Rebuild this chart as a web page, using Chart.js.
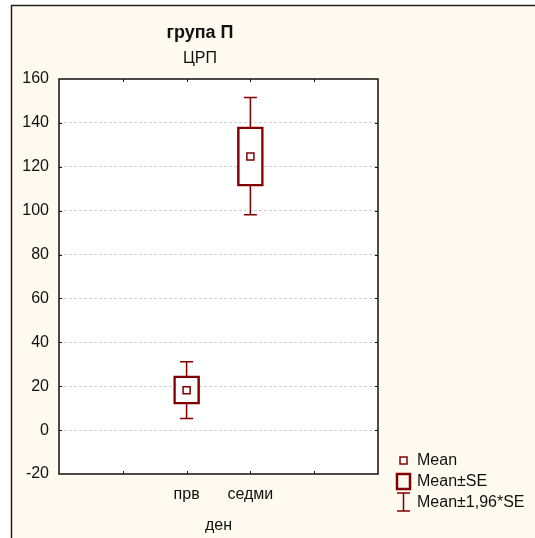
<!DOCTYPE html>
<html>
<head>
<meta charset="utf-8">
<script src="https://cdn.jsdelivr.net/npm/chart.js@4"></script>
<style>
  html, body { margin: 0; padding: 0; background: #ffffff; }
  canvas { display: block; }
</style>
</head>
<body>
<canvas id="grafik" width="535" height="538"></canvas>
<script>
// podatoci procitani od slikata
var denovi = ['прв', 'седми'];
var xPozicii = ['', '', 'прв', 'седми', '', ''];
var sredini = [18.2, 124.7];
var seDolu = [11.8, 111.2];
var seGore = [24.7, 138.2];
var ciDolu = [5.3, 98.1];
var ciGore = [31.1, 151.6];
var yTikovi = [-20, 0, 20, 40, 60, 80, 100, 120, 140, 160];
var legendaTekst = ['Mean', 'Mean±SE', 'Mean±1,96*SE'];
var naslov = 'група П';
var podnaslov = 'ЦРП';
var xNaslov = 'ден';

var crvena = '#800000';
var fontIme = '"Liberation Sans", Arial, sans-serif';

var boxPodatoci = [];
var sredinaPodatoci = [];
for (var i = 0; i < denovi.length; i++) {
  boxPodatoci.push({x: denovi[i], y: [seDolu[i], seGore[i]]});
  sredinaPodatoci.push({x: denovi[i], y: sredini[i]});
}

/* POZADINA I RAMKA */
var pozadinaPlugin = {
  id: 'pozadina',
  beforeDraw: function (chart) {
    var ctx = chart.ctx;
    var a = chart.chartArea;
    ctx.save();
    ctx.fillStyle = '#fffaef';
    ctx.fillRect(11, 5, chart.width - 11, chart.height - 5);
    ctx.strokeStyle = '#222222';
    ctx.lineWidth = 1.5;
    ctx.beginPath();
    ctx.moveTo(11.5, chart.height);
    ctx.lineTo(11.5, 5.5);
    ctx.lineTo(chart.width, 5.5);
    ctx.stroke();
    ctx.fillStyle = '#ffffff';
    ctx.fillRect(a.left, a.top, a.right - a.left, a.bottom - a.top);
    ctx.restore();
  },
  afterDraw: function (chart) {
    var ctx = chart.ctx;
    var a = chart.chartArea;
    ctx.save();
    ctx.strokeStyle = '#111111';
    ctx.lineWidth = 1.5;
    ctx.strokeRect(a.left, a.top, a.right - a.left, a.bottom - a.top);
    // tikovi vnatre
    ctx.lineWidth = 1;
    ctx.beginPath();
    var xs = chart.scales.x;
    for (var k = 1; k < xPozicii.length - 1; k++) {
      var px = Math.round(xs.getPixelForValue(k)) + 0.5;
      ctx.moveTo(px, a.top); ctx.lineTo(px, a.top + 3);
      ctx.moveTo(px, a.bottom); ctx.lineTo(px, a.bottom - 3);
    }
    var ys = chart.scales.y;
    for (var t = 1; t < yTikovi.length - 1; t++) {
      var py = Math.round(ys.getPixelForValue(yTikovi[t])) + 0.5;
      ctx.moveTo(a.left, py); ctx.lineTo(a.left + 3, py);
      ctx.moveTo(a.right, py); ctx.lineTo(a.right - 3, py);
    }
    ctx.stroke();
    ctx.restore();
  }
};

/* MUSTACI (Mean±1,96*SE) */
var mustaciPlugin = {
  id: 'mustaci',
  beforeDatasetsDraw: function (chart) {
    var ctx = chart.ctx;
    var ys = chart.scales.y;
    var meta = chart.getDatasetMeta(0);
    ctx.save();
    ctx.strokeStyle = crvena;
    ctx.lineWidth = 1.5;
    for (var i = 0; i < denovi.length; i++) {
      var x = meta.data[i].x;
      var yG = ys.getPixelForValue(ciGore[i]);
      var yD = ys.getPixelForValue(ciDolu[i]);
      ctx.beginPath();
      ctx.moveTo(x, yG); ctx.lineTo(x, yD);
      ctx.moveTo(x - 6.5, yG); ctx.lineTo(x + 6.5, yG);
      ctx.moveTo(x - 6.5, yD); ctx.lineTo(x + 6.5, yD);
      ctx.stroke();
    }
    ctx.restore();
  }
};

/* LEGENDA */
var legendaPlugin = {
  id: 'legenda',
  afterDraw: function (chart) {
    var ctx = chart.ctx;
    var a = chart.chartArea;
    var x0 = a.right + 18;
    var redovi = [a.bottom - 14, a.bottom + 7, a.bottom + 28];
    ctx.save();
    ctx.strokeStyle = crvena;
    // Mean
    ctx.lineWidth = 1.5;
    ctx.fillStyle = '#ffffff';
    ctx.fillRect(x0 + 4, redovi[0] - 3, 7, 7);
    ctx.strokeRect(x0 + 4, redovi[0] - 3, 7, 7);
    // Mean±SE
    ctx.lineWidth = 2.5;
    ctx.strokeRect(x0 + 1, redovi[1] - 7, 13, 15);
    // Mean±1,96*SE
    ctx.lineWidth = 1.5;
    ctx.beginPath();
    ctx.moveTo(x0 + 7.5, redovi[2] - 9); ctx.lineTo(x0 + 7.5, redovi[2] + 9);
    ctx.moveTo(x0 + 1, redovi[2] - 9); ctx.lineTo(x0 + 14, redovi[2] - 9);
    ctx.moveTo(x0 + 1, redovi[2] + 9); ctx.lineTo(x0 + 14, redovi[2] + 9);
    ctx.stroke();
    ctx.fillStyle = '#111111';
    ctx.font = '16px ' + fontIme;
    ctx.textBaseline = 'middle';
    ctx.textAlign = 'left';
    for (var r = 0; r < legendaTekst.length; r++) {
      ctx.fillText(legendaTekst[r], x0 + 21, redovi[r] + 1);
    }
    ctx.restore();
  }
};

var ctx = document.getElementById('grafik');
var grafik = new Chart(ctx, {
  type: 'bar',
  data: {
    labels: xPozicii,
    datasets: [{
      type: 'bar',
      label: legendaTekst[1],
      data: boxPodatoci,
      backgroundColor: '#ffffff',
      borderColor: crvena,
      borderWidth: 2.5,
      borderSkipped: false,
      barThickness: 26,
      order: 2
    }, {
      type: 'line',
      label: legendaTekst[0],
      data: sredinaPodatoci,
      showLine: false,
      pointStyle: 'rect',
      pointRadius: 5,
      pointBorderWidth: 1.5,
      pointBorderColor: crvena,
      pointBackgroundColor: '#ffffff',
      order: 1
    }]
  },
  options: {
    responsive: false,
    devicePixelRatio: 1,
    animation: false,
    layout: { padding: { left: 22, right: 157, top: 0, bottom: 0 } },
    plugins: {
      legend: { display: false },
      tooltip: { enabled: false },
      title: {
        display: true,
        text: naslov,
        color: '#111111',
        font: { family: fontIme, size: 18, weight: 'bold' },
        padding: { top: 22, bottom: 4 }
      },
      subtitle: {
        display: true,
        text: podnaslov,
        color: '#111111',
        font: { family: fontIme, size: 16 },
        padding: { top: 1, bottom: 11.2 }
      }
    },
    scales: {
      x: {
        type: 'category',
        offset: false,
        grid: { display: false, offset: false },
        border: { display: false },
        ticks: {
          autoSkip: false,
          maxRotation: 0,
          padding: 3,
          color: '#111111',
          font: { family: fontIme, size: 16 }
        },
        title: {
          display: true,
          text: xNaslov,
          color: '#111111',
          font: { family: fontIme, size: 16 },
          padding: { top: 0, bottom: 3 }
        },
        afterFit: function (s) { s.height = 64; }
      },
      y: {
        min: -20,
        max: 160,
        afterBuildTicks: function (s) {
          s.ticks = yTikovi.map(function (v) { return {value: v}; });
        },
        grid: {
          drawTicks: false,
          color: function (c) {
            if (c.tick && (c.tick.value === -20 || c.tick.value === 160)) return 'rgba(0,0,0,0)';
            return '#cfcfcf';
          },
          lineWidth: 1
        },
        border: { display: false, dash: [3, 2] },
        ticks: {
          padding: 10,
          color: '#111111',
          font: { family: fontIme, size: 16 }
        },
        afterFit: function (s) { s.width = 37; }
      }
    }
  },
  plugins: [pozadinaPlugin, mustaciPlugin, legendaPlugin]
});
</script>
</body>
</html>
